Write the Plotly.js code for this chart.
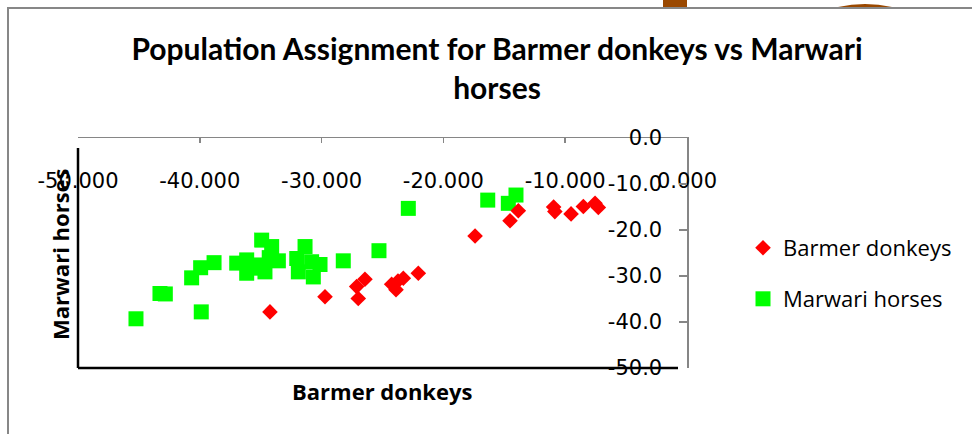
<!DOCTYPE html>
<html>
<head>
<meta charset="utf-8">
<script src="https://cdn.plot.ly/plotly-3.0.1.min.js"></script>
<style>html,body{margin:0;padding:0;background:#fff;}#chart{width:972px;height:434px;}</style>
</head>
<body>
<div id="chart"></div>
<script>
// Barmer donkeys (x, y)
const donkeyX = [-34.24, -29.72, -26.99, -27.12, -26.44, -24.25, -23.89, -23.73, -23.29, -22.06, -17.40, -14.53, -13.85, -10.95, -10.85, -9.52, -8.51, -7.55, -7.28];
const donkeyY = [-37.8, -34.5, -34.9, -32.3, -30.7, -31.8, -33.0, -31.1, -30.5, -29.4, -21.3, -18.0, -15.8, -15.0, -16.0, -16.5, -14.9, -14.2, -15.1];
// Marwari horses (x, y)
const horseX = [-45.24, -43.27, -42.83, -40.67, -39.93, -38.83, -39.88, -36.97, -36.15, -36.15, -35.47, -35.06, -34.65, -34.92, -34.10, -33.55, -34.30, -32.04, -31.91, -31.36, -30.82, -30.68, -30.13, -28.22, -25.29, -22.88, -16.36, -14.67, -14.04];
const horseY = [-39.3, -33.8, -33.9, -30.4, -28.2, -27.1, -37.8, -27.2, -26.5, -29.4, -27.6, -28.3, -29.1, -22.2, -23.6, -26.7, -26.0, -26.2, -29.1, -23.6, -26.9, -30.2, -27.5, -26.7, -24.5, -15.3, -13.5, -14.2, -12.4];
const seriesNames = ['Barmer donkeys', 'Marwari horses'];
const xTickVals = [-50, -40, -30, -20, -10, 0];
const xTickText = ['-50.000', '-40.000', '-30.000', '-20.000', '-10.000', '0.000'];
const yTickVals = [0, -10, -20, -30, -40, -50];
const yTickText = ['0.0', '-10.0', '-20.0', '-30.0', '-40.0', '-50.0'];
const titleText = 'Population Assignment for Barmer donkeys vs Marwari<br>horses';
const xTitle = 'Barmer donkeys';
const yTitle = 'Marwari horses';

const tickFont = {family: 'DejaVu Sans', size: 21, color: '#000'};
const boldFont = {family: 'Open Sans', size: 22, color: '#000', weight: 'bold'};
const legendFont = {family: 'Open Sans', size: 22, color: '#000'};

const traces = [
  {x: horseX, y: horseY, name: seriesNames[1], type: 'scatter', mode: 'markers', legend: 'legend2',
   marker: {symbol: 'square', size: 15, color: '#00ff00'}},
  {x: donkeyX, y: donkeyY, name: seriesNames[0], type: 'scatter', mode: 'markers', legend: 'legend',
   marker: {symbol: 'diamond', size: 12, color: '#ff0000'}}
];

const L = 78, R = 687, T = 138, B = 368;
const W = R - L, H = B - T;
const px = v => (v - L) / W;
const py = v => (B - v) / H;

const layout = {
  width: 972, height: 434,
  margin: {l: L, r: 972 - R, t: T, b: 434 - B},
  paper_bgcolor: '#fff', plot_bgcolor: '#fff',
  title: {text: titleText, x: 497 / 972, xref: 'container', xanchor: 'center',
          y: 1 - 60 / 434, yref: 'container', yanchor: 'middle',
          font: {family: 'Lato', size: 30, color: '#000', weight: 'bold'}},
  xaxis: {side: 'top', range: [-50, 0], tickvals: xTickVals, ticktext: xTickText,
          ticks: 'inside', ticklen: 5, tickcolor: '#868686', tickwidth: 1.5,
          showline: true, linecolor: '#868686', linewidth: 1.5, showgrid: false, zeroline: false,
          ticklabelposition: 'inside', ticklabelstandoff: 32, ticklabeloverflow: 'allow',
          tickfont: tickFont, fixedrange: true},
  yaxis: {side: 'right', range: [-50, 0], tickvals: yTickVals, ticktext: yTickText,
          ticks: 'inside', ticklen: 8, tickcolor: '#868686', tickwidth: 1.5,
          showline: true, linecolor: '#868686', linewidth: 1.5, showgrid: false, zeroline: false,
          ticklabelposition: 'inside', ticklabelstandoff: 18, ticklabeloverflow: 'allow',
          tickfont: tickFont, fixedrange: true},
  legend: {x: px(743), xanchor: 'left', y: py(248), yanchor: 'middle', bgcolor: 'rgba(0,0,0,0)',
           font: legendFont},
  legend2: {x: px(743), xanchor: 'left', y: py(299), yanchor: 'middle', bgcolor: 'rgba(0,0,0,0)',
           font: legendFont},
  showlegend: true,
  annotations: [
    {text: xTitle, x: 0.5, y: py(391), xref: 'paper', yref: 'paper', showarrow: false,
     xanchor: 'center', yanchor: 'middle', font: boldFont},
    {text: yTitle, x: px(60), y: py(254), xref: 'paper', yref: 'paper', showarrow: false,
     xanchor: 'center', yanchor: 'middle', textangle: -90, font: boldFont}
  ],
  shapes: [
    // outer chart border
    {type: 'rect', xref: 'paper', yref: 'paper', x0: px(8), x1: px(990), y0: py(450), y1: py(8),
     line: {color: '#878787', width: 2}, fillcolor: 'rgba(0,0,0,0)'},
    // brown fragments above the chart border (pixel-sized)
    {type: 'rect', xref: 'paper', yref: 'paper', xsizemode: 'pixel', ysizemode: 'pixel',
     xanchor: px(663), yanchor: py(8), x0: 0, x1: 24, y0: 1, y1: 12,
     fillcolor: '#9a4800', line: {width: 0}},
    {type: 'path', xref: 'paper', yref: 'paper', xsizemode: 'pixel', ysizemode: 'pixel',
     xanchor: px(838), yanchor: py(8), path: 'M 0,1 Q 27,7 54,1 Z',
     fillcolor: '#9a4800', line: {width: 0}},
    // black left and bottom plot-area lines
    {type: 'line', xref: 'paper', yref: 'paper', x0: 0, x1: 0, y0: 0, y1: py(148),
     line: {color: '#000', width: 2.5}},
    {type: 'line', xref: 'paper', yref: 'paper', x0: 0, x1: px(678), y0: 0, y1: 0,
     line: {color: '#000', width: 2.5}}
  ]
};

Plotly.newPlot('chart', traces, layout, {displayModeBar: false, staticPlot: true});
</script>
</body>
</html>
